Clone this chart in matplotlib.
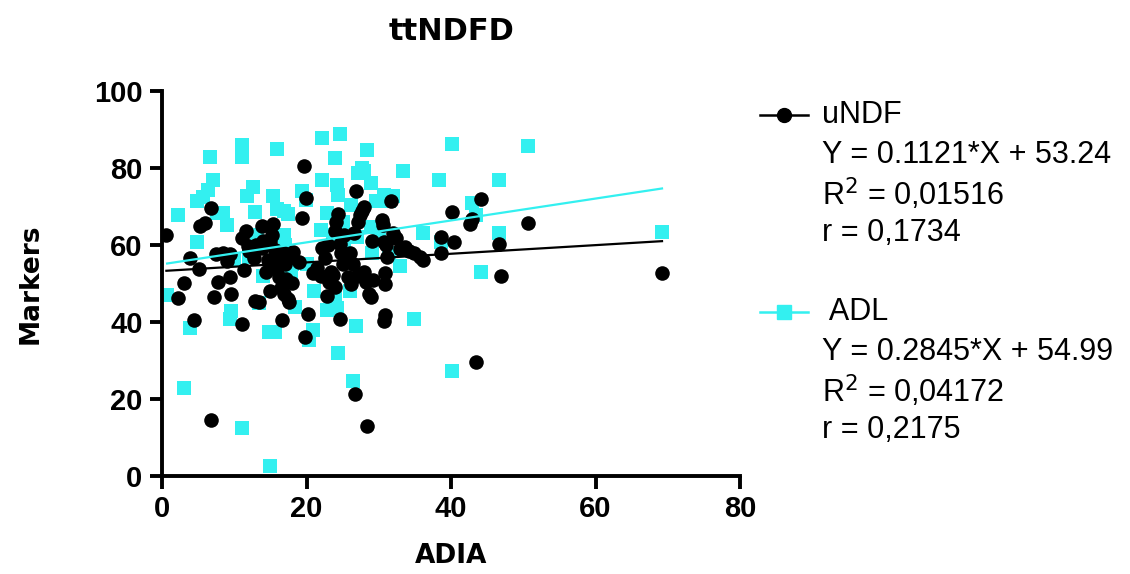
import numpy as np
import matplotlib
matplotlib.use("Agg")
import matplotlib.pyplot as plt
from matplotlib.lines import Line2D

plt.rcParams['font.family'] = ['Liberation Sans', 'DejaVu Sans']

# uNDF (black circles)
undf_x = [0.6, 2.2, 3.0, 3.9, 4.4, 5.1, 5.2, 6.0, 6.8, 7.2, 7.5, 7.8, 8.4, 9.0, 9.4, 9.5, 9.4,
          6.8, 11.0, 11.1, 11.6, 11.9, 11.4, 12.7, 12.9, 13.4, 13.9, 13.9, 14.4, 14.9, 15.2, 15.4,
          15.6, 15.9, 16.2, 16.4, 16.6, 16.9, 17.1, 17.4, 17.6, 17.9, 18.1, 16.9, 19.4, 19.6, 19.9,
          19.8, 20.2, 20.9, 21.4, 22.2, 22.6, 22.9, 23.1, 23.4, 23.7, 23.9, 24.1, 24.4, 24.6, 24.8,
          24.6, 25.2, 25.4, 25.7, 26.1, 26.4, 26.6, 26.7, 26.8, 27.1, 27.4, 27.7, 27.9, 27.9, 28.2,
          28.4, 28.6, 28.9, 29.2, 30.4, 30.6, 30.7, 30.9, 30.9, 30.7, 30.9, 31.1, 31.7, 31.9, 32.4,
          32.9, 33.6, 34.2, 34.9, 35.7, 36.1, 38.6, 38.6, 40.2, 40.4, 42.6, 42.9, 43.4, 44.2, 46.7,
          46.9, 50.6, 69.2, 14.0, 17.0, 13.0, 16.0, 18.0, 15.0, 25.0, 23.0, 24.0, 26.0, 27.0, 29.0,
          22.0, 31.0, 12.0, 14.6, 19.0]
undf_y = [62.7, 46.3, 50.1, 56.7, 40.6, 53.8, 65.0, 65.8, 69.7, 46.5, 57.6, 50.5, 57.9, 55.8, 57.7,
          47.4, 51.7, 14.5, 39.6, 61.7, 63.6, 59.8, 53.6, 56.5, 45.5, 45.3, 65.0, 59.3, 53.1, 60.8,
          62.7, 65.5, 58.6, 54.1, 51.7, 48.9, 40.6, 47.4, 51.2, 46.0, 45.3, 57.0, 58.1, 57.9, 67.1,
          80.6, 72.2, 36.2, 42.2, 52.7, 54.1, 59.3, 56.5, 46.7, 50.3, 53.1, 52.2, 63.6, 66.0, 68.1,
          60.3, 57.9, 40.8, 62.7, 57.0, 51.7, 49.8, 55.0, 63.1, 21.2, 74.1, 66.0, 67.9, 68.9, 69.8,
          53.1, 50.3, 13.0, 47.4, 46.5, 50.8, 66.5, 65.3, 60.8, 52.7, 49.8, 40.3, 41.7, 57.0, 71.4,
          63.1, 61.7, 58.9, 59.6, 58.4, 57.9, 57.0, 56.2, 62.2, 57.9, 68.6, 60.8, 65.5, 66.7, 29.5,
          71.9, 60.3, 52.0, 65.8, 52.7, 61.0, 55.0, 60.0, 57.0, 50.0, 48.0, 55.0, 60.0, 49.0, 58.0,
          52.0, 61.0, 52.0, 60.0, 58.5, 56.0, 55.5]

# ADL (cyan squares)
adl_x = [0.7, 2.2, 3.1, 3.9, 4.9, 4.9, 5.7, 6.4, 7.0, 6.7, 7.6, 8.4, 9.0, 9.4, 9.6, 11.1, 11.0,
         11.1, 11.7, 12.6, 12.9, 13.2, 13.4, 14.8, 15.0, 15.7, 15.9, 15.4, 15.9, 16.9, 17.4, 16.9,
         17.9, 18.4, 19.4, 19.9, 20.4, 20.9, 22.2, 22.2, 22.9, 23.6, 22.9, 23.9, 24.2, 24.4, 24.6,
         24.4, 23.9, 24.2, 25.2, 26.2, 26.4, 26.9, 27.1, 27.7, 28.0, 28.4, 28.9, 28.9, 29.6, 30.7,
         31.4, 32.0, 31.4, 32.9, 33.4, 34.9, 36.1, 38.4, 38.6, 40.2, 40.2, 43.4, 42.9, 44.2, 46.7,
         46.6, 50.6, 69.2, 12.0, 14.0, 17.0, 20.0, 22.0, 25.0, 27.0, 29.0, 26.0, 30.0, 21.0, 18.0,
         10.0]
adl_y = [47.0, 67.9, 22.9, 38.4, 60.8, 71.4, 72.4, 74.3, 77.0, 82.9, 68.4, 68.4, 65.3, 40.8, 42.9,
         86.0, 82.9, 12.4, 72.7, 75.0, 68.6, 62.7, 45.0, 37.4, 2.7, 37.4, 85.0, 72.7, 69.3, 68.9,
         68.0, 62.7, 51.7, 43.8, 74.1, 71.7, 35.2, 37.9, 87.9, 76.8, 68.4, 62.7, 43.1, 82.7, 75.5,
         73.1, 88.9, 32.0, 46.5, 43.6, 59.3, 70.3, 24.6, 38.9, 78.6, 80.0, 79.3, 84.6, 76.0, 64.6,
         71.4, 72.9, 71.4, 72.7, 57.9, 54.6, 79.3, 40.8, 63.1, 77.0, 60.8, 86.3, 27.2, 67.9, 70.8,
         53.0, 76.8, 63.1, 85.7, 63.4, 57.0, 52.0, 60.0, 55.0, 64.0, 66.0, 62.0, 58.0, 48.0, 63.0,
         48.0, 55.0, 56.0]

# linear fits reported in the legend
undf_fit = (0.1121, 53.24)
adl_fit = (0.2845, 54.99)
undf_stats = ["Y = 0.1121*X + 53.24", "R$^2$ = 0,01516", "r = 0,1734"]
adl_stats = ["Y = 0.2845*X + 54.99", "R$^2$ = 0,04172", "r = 0,2175"]

black = "#000000"
cyan = "#33f0f0"

fig = plt.figure(figsize=(11.3, 5.74), dpi=100)
ax = fig.add_axes([0.1434, 0.1707, 0.5115, 0.6708])

ax.scatter(adl_x, adl_y, marker="s", s=95, color=cyan, linewidths=0, zorder=2)
ax.scatter(undf_x, undf_y, marker="o", s=110, color=black, linewidths=0, zorder=3)

for xs, (m, b), c in [(undf_x, undf_fit, black), (adl_x, adl_fit, cyan)]:
    xl = np.array([min(xs), max(xs)])
    ax.plot(xl, m * xl + b, color=c, lw=1.6, zorder=4)

ax.set_xlim(0, 80)
ax.set_ylim(0, 100)
ax.set_xticks([0, 20, 40, 60, 80])
ax.set_yticks([0, 20, 40, 60, 80, 100])
for s in ["top", "right"]:
    ax.spines[s].set_visible(False)
for s in ["left", "bottom"]:
    ax.spines[s].set_linewidth(2.8)
ax.tick_params(width=2.8, length=9, labelsize=21, pad=5)
for lab in ax.get_xticklabels() + ax.get_yticklabels():
    lab.set_fontweight("bold")

ax.set_xlabel("ADIA", fontsize=19, fontweight="bold", family="DejaVu Sans", labelpad=14)
ax.set_ylabel("Markers", fontsize=19, fontweight="bold", family="DejaVu Sans", labelpad=36)
fig.text(0.4, 0.945, "ttNDFD", ha="center", va="center", fontsize=22,
         fontweight="bold", family="DejaVu Sans")

# legend drawn by hand
def legend_entry(y_px, marker, color, name, stats):
    yf = 1 - y_px / 574
    fig.add_artist(Line2D([760 / 1130, 808 / 1130], [yf, yf], color=color, lw=1.8,
                          transform=fig.transFigure))
    fig.add_artist(Line2D([784 / 1130], [yf], color=color, marker=marker, markersize=10,
                          linestyle="none", transform=fig.transFigure))
    fig.text(822 / 1130, yf, name, fontsize=22, va="center")
    for i, t in enumerate(stats):
        fig.text(822 / 1130, 1 - (y_px + 40 + 39 * i) / 574, t, fontsize=22, va="center")

legend_entry(115, "o", black, "uNDF", undf_stats)
legend_entry(312, "s", cyan, " ADL", adl_stats)

fig.savefig("out.png", dpi=100)
